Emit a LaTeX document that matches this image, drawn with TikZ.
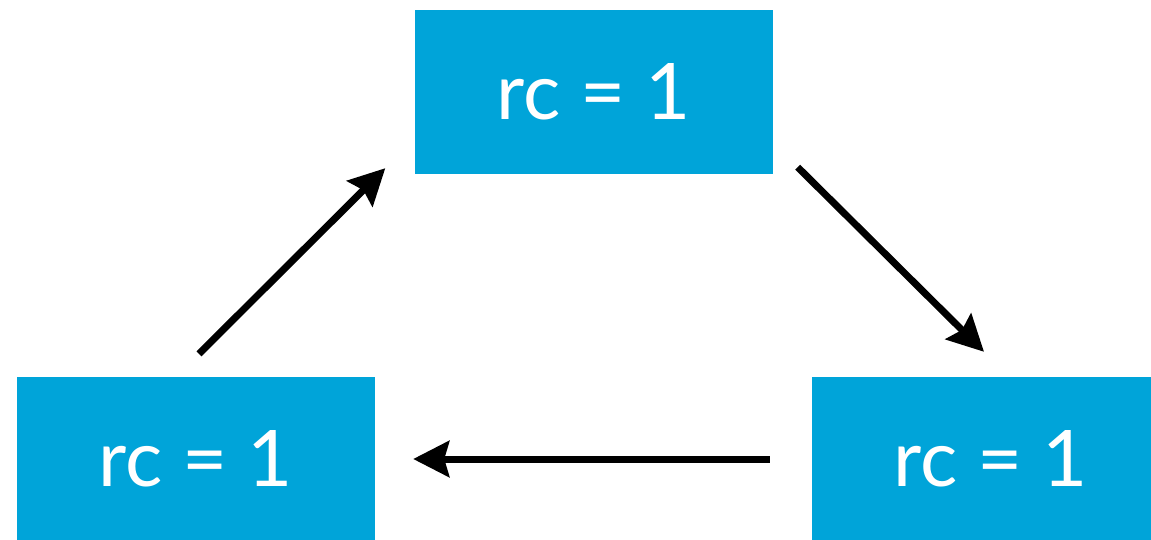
\documentclass[tikz,border=0pt]{standalone}
\usepackage{fontspec}
\setmainfont{Lato}
\usetikzlibrary{arrows.meta}

\definecolor{rcblue}{HTML}{00A4D9}

\tikzset{
  rcbox/.style={fill=rcblue, text=white, minimum width=358pt, minimum height=164pt,
    inner sep=0pt, font=\fontsize{78}{90}\selectfont},
  arr/.style={line width=7pt, -{Stealth[length=36pt,width=36pt,inset=5pt]}}
}

\begin{document}
\begin{tikzpicture}[x=1pt, y=1pt]

% Canvas
\useasboundingbox (0,0) rectangle (1151,539);

% Boxes
\node[rcbox] (top) at (593.5,447) {rc = 1};
\node[rcbox] (left) at (196,80) {rc = 1};
\node[rcbox] (right) at (991,80) {rc = 1};

% Arrows
\draw[arr] ([xshift=3pt,yshift=23pt]left.north) -- ([xshift=-29pt,yshift=6pt]top.south west);
\draw[arr] ([xshift=25pt,yshift=7pt]top.south east) -- ([xshift=-7pt,yshift=25pt]right.north);
\draw[arr, shorten <=42pt, shorten >=38pt] (right.west) -- (left.east);

\end{tikzpicture}
\end{document}
